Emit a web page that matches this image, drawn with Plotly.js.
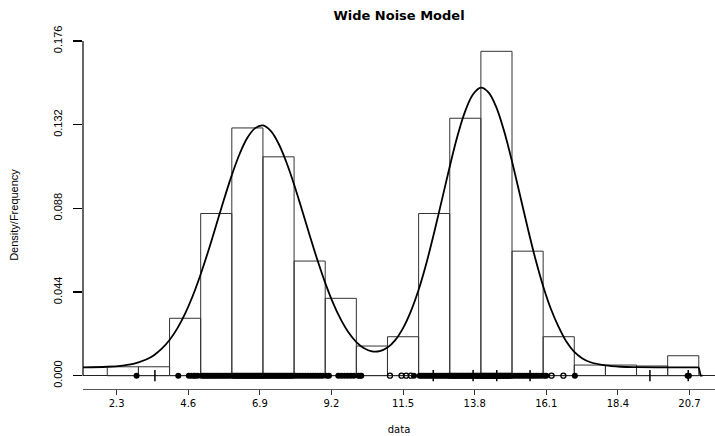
<!DOCTYPE html>
<html><head><meta charset="utf-8">
<script src="https://cdn.plot.ly/plotly-3.0.1.min.js"></script>
<style>html,body{margin:0;padding:0;background:#fff}#chart{width:715px;height:436px}</style>
</head><body><div id="chart"></div>
<script>
// Histogram bins (width 1) and densities
const binCenters = [2.5,3.5,4.5,5.5,6.5,7.5,8.5,9.5,10.5,11.5,12.5,13.5,14.5,15.5,16.5,17.5,18.5,19.5,20.5];
const binDensity = [0.0047,0.0047,0.0302,0.0853,0.1303,0.1151,0.0603,0.0407,0.0156,0.0205,0.0853,0.1354,0.1706,0.0655,0.0205,0.0056,0.0056,0.0051,0.0105];

// Fitted density curve
const curveX = [1.22,2,2.5,2.75,3,3.25,3.5,3.75,4,4.25,4.5,4.75,5,5.25,5.5,5.75,6,6.25,6.5,6.75,7,7.25,7.5,7.75,8,8.25,8.5,8.75,9,9.25,9.5,9.75,10,10.25,10.5,10.75,11,11.25,11.5,11.75,12,12.25,12.5,12.75,13,13.25,13.5,13.75,14,14.25,14.5,14.75,15,15.25,15.5,15.75,16,16.25,16.5,16.75,17,17.25,17.5,18,18.5,19,20,21];
const curveY = [0.0044,0.0047,0.0053,0.0059,0.0070,0.0085,0.0108,0.0142,0.0188,0.0249,0.0327,0.0422,0.0534,0.0659,0.0793,0.0928,0.1055,0.1166,0.1251,0.1302,0.1316,0.1287,0.1221,0.1124,0.1006,0.0874,0.0739,0.0608,0.0488,0.0383,0.0296,0.0227,0.0177,0.0144,0.0128,0.0129,0.0148,0.0187,0.0250,0.0338,0.0452,0.0592,0.0753,0.0926,0.1100,0.1262,0.1393,0.1480,0.1515,0.1489,0.1410,0.1284,0.1127,0.0954,0.0779,0.0615,0.0471,0.0351,0.0256,0.0178,0.0125,0.0092,0.0072,0.0054,0.0047,0.0045,0.0044,0.0044];
// Drop of the curve at the right end of the data range
const tailX = [21,21.06,21.12];
const tailY = [0.0044,0.0,0.0];

// Rug of observations
const rugDots = [2.94,4.28,4.62,4.70,4.78,4.82,4.90,
 5.02,5.08,5.13,5.19,5.24,5.30,5.36,5.41,5.47,5.52,5.58,5.64,5.70,5.76,5.82,5.88,5.95,
 6.02,6.06,6.10,6.14,6.18,6.22,6.26,6.30,6.34,6.38,6.42,6.46,6.50,6.54,6.58,6.62,6.66,6.70,6.74,6.78,6.82,6.86,6.90,6.94,6.98,
 7.02,7.07,7.11,7.16,7.20,7.25,7.29,7.34,7.38,7.43,7.47,7.52,7.56,7.61,7.65,7.70,7.74,7.79,7.83,7.88,7.92,7.97,
 8.04,8.12,8.20,8.28,8.36,8.44,8.52,8.60,8.68,8.76,8.84,8.92,
 9.05,9.12,9.42,9.52,9.62,9.72,9.82,9.92,10.06,10.12,10.16,11.85,
 12.03,12.09,12.15,12.21,12.27,12.33,12.39,12.45,12.51,12.57,12.63,12.69,12.75,12.81,12.87,12.93,12.98,
 13.02,13.06,13.10,13.14,13.17,13.21,13.25,13.29,13.33,13.37,13.40,13.44,13.48,13.52,13.56,13.60,13.63,13.67,13.71,13.75,13.79,13.83,13.86,13.90,13.94,13.98,
 14.01,14.04,14.07,14.10,14.13,14.16,14.19,14.22,14.25,14.28,14.31,14.34,14.37,14.40,14.43,14.46,14.49,14.52,14.55,14.58,14.61,14.64,14.67,14.70,14.73,14.76,14.79,14.82,14.85,14.88,14.91,14.94,14.97,
 15.03,15.10,15.18,15.25,15.33,15.40,15.48,15.55,15.63,15.70,15.78,15.86,15.95,
 16.04,16.10,17.02,20.64,20.68];
const rugOpen = [11.08,11.45,11.60,11.75,16.27,16.65];
const rugTicks = [3.53,12.47,13.75,14.51,15.58,19.43,20.66];

const xTickVals = [2.3,4.6,6.9,9.2,11.5,13.8,16.1,18.4,20.7];
const xTickText = ["2.3","4.6","6.9","9.2","11.5","13.8","16.1","18.4","20.7"];
const yTickVals = [0,0.044,0.088,0.132,0.176];
const yTickText = ["0.000","0.044","0.088","0.132","0.176"];

const zeros = a => a.map(() => 0);

const traces = [
  {type:'bar', x:binCenters, y:binDensity, width:1,
   marker:{color:'rgba(0,0,0,0)', line:{color:'#333', width:1}}, hoverinfo:'skip'},
  {type:'scatter', mode:'lines', x:curveX, y:curveY,
   line:{color:'#000', width:1.8, shape:'spline', smoothing:1}, hoverinfo:'skip'},
  {type:'scatter', mode:'lines', x:tailX, y:tailY,
   line:{color:'#000', width:1.8}, hoverinfo:'skip'},
  {type:'scatter', mode:'markers', x:rugDots, y:zeros(rugDots), cliponaxis:false,
   marker:{symbol:'circle', size:6, color:'#000'}, hoverinfo:'skip'},
  {type:'scatter', mode:'markers', x:rugOpen, y:zeros(rugOpen), cliponaxis:false,
   marker:{symbol:'circle-open', size:5, color:'#000', line:{width:1.3, color:'#000'}}, hoverinfo:'skip'},
  {type:'scatter', mode:'markers', x:rugTicks, y:zeros(rugTicks), cliponaxis:false,
   marker:{symbol:'line-ns-open', size:8, color:'#000', line:{width:1.5, color:'#000'}}, hoverinfo:'skip'}
];

const narrow = 'Liberation Sans Narrow, Arial Narrow, Liberation Sans, sans-serif';
const wide = 'DejaVu Sans, Verdana, sans-serif';

const layout = {
  width:715, height:436,
  margin:{l:83, r:0, t:41, b:47, pad:0},
  paper_bgcolor:'#fff', plot_bgcolor:'#fff',
  showlegend:false, bargap:0,
  title:{text:'Wide Noise Model', font:{family:wide, size:13, weight:'bold', color:'#000'},
         x:0.5, xref:'paper', xanchor:'center', y:1-15/436, yref:'container', yanchor:'middle'},
  xaxis:{range:[1.22,21.52], tickmode:'array', tickvals:xTickVals, ticktext:xTickText,
         ticks:'outside', ticklen:5, tickwidth:1, tickcolor:'#333',
         showline:true, linecolor:'#555', linewidth:1, showgrid:false, zeroline:false,
         tickfont:{family:wide, size:10, color:'#000'},
         title:{text:'data', font:{family:wide, size:10, color:'#000'}, standoff:17}},
  yaxis:{range:[-0.00699,0.17602], tickmode:'array', tickvals:yTickVals, ticktext:yTickText,
         ticks:'outside', ticklen:9, tickwidth:1.2, tickcolor:'#000', tickangle:-90,
         ticklabelstandoff:7,
         showline:false, showgrid:false, zeroline:true, zerolinecolor:'#222', zerolinewidth:1,
         tickfont:{family:narrow, size:11, color:'#000'},
         title:{text:'Density/Frequency', font:{family:narrow, size:11, color:'#000'}, standoff:30}},
  shapes:[{type:'line', xref:'paper', yref:'y', x0:0, x1:0,
           y0:yTickVals[0], y1:yTickVals[yTickVals.length-1], line:{color:'#000', width:1.2}}]
};

Plotly.newPlot('chart', traces, layout, {staticPlot:true, displayModeBar:false});
</script>
</body></html>
